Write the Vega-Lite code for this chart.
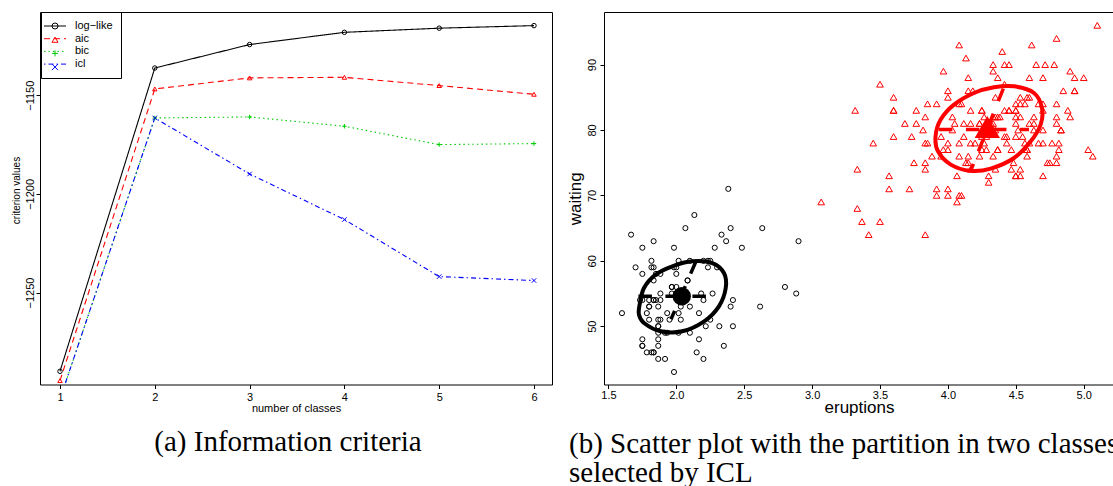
{
"$schema": "https://vega.github.io/schema/vega-lite/v6.json",
"padding": {"left": 10, "top": 11, "right": 0, "bottom": 0},
"spacing": 13,
"config": {
  "font": "Liberation Sans",
  "view": {"stroke": "black", "strokeWidth": 1},
  "axis": {"grid": false, "domain": false, "labelColor": "black", "tickColor": "black", "titleColor": "black", "titleFontWeight": "normal", "tickSize": 4, "labelFlush": false, "labelOverlap": false, "labelFont": "Liberation Sans", "titleFont": "Liberation Sans"},
  "title": {"font": "Liberation Serif", "fontWeight": "normal", "color": "black", "fontSize": 29}
},
"datasets": {
  "crit": [
    {"k":1,"s":"log−like","v":-1289.9},{"k":2,"s":"log−like","v":-1136.2},{"k":3,"s":"log−like","v":-1124.3},{"k":4,"s":"log−like","v":-1118.1},{"k":5,"s":"log−like","v":-1116.0},{"k":6,"s":"log−like","v":-1114.7},
    {"k":1,"s":"aic","v":-1294.6},{"k":2,"s":"aic","v":-1146.8},{"k":3,"s":"aic","v":-1141.2},{"k":4,"s":"aic","v":-1140.9},{"k":5,"s":"aic","v":-1145.1},{"k":6,"s":"aic","v":-1149.5},
    {"k":1,"s":"bic","v":-1304.0},{"k":2,"s":"bic","v":-1161.5},{"k":3,"s":"bic","v":-1161.0},{"k":4,"s":"bic","v":-1165.7},{"k":5,"s":"bic","v":-1175.0},{"k":6,"s":"bic","v":-1174.5},
    {"k":1,"s":"icl","v":-1304.0},{"k":2,"s":"icl","v":-1161.5},{"k":3,"s":"icl","v":-1189.9},{"k":4,"s":"icl","v":-1213.0},{"k":5,"s":"icl","v":-1241.9},{"k":6,"s":"icl","v":-1243.9}
  ],
  "g1": [{"e":1.8,"w":54},{"e":2.283,"w":62},{"e":2.883,"w":55},{"e":1.95,"w":51},{"e":1.833,"w":54},{"e":1.75,"w":47},{"e":2.167,"w":52},{"e":1.75,"w":62},{"e":1.6,"w":52},{"e":1.8,"w":51},{"e":1.75,"w":47},{"e":1.967,"w":55},{"e":2.017,"w":52},{"e":1.867,"w":48},{"e":1.833,"w":59},{"e":1.883,"w":58},{"e":1.75,"w":58},{"e":2.1,"w":53},{"e":2,"w":59},{"e":1.833,"w":54},{"e":1.733,"w":54},{"e":1.667,"w":64},{"e":2.233,"w":59},{"e":1.75,"w":48},{"e":1.817,"w":60},{"e":2.067,"w":65},{"e":1.967,"w":56},{"e":1.983,"w":62},{"e":2.017,"w":60},{"e":2.633,"w":65},{"e":2.167,"w":48},{"e":2.2,"w":60},{"e":1.867,"w":50},{"e":1.833,"w":63},{"e":1.867,"w":51},{"e":2.483,"w":62},{"e":2.1,"w":49},{"e":1.867,"w":47},{"e":1.783,"w":52},{"e":2.3,"w":59},{"e":1.7,"w":59},{"e":2.317,"w":50},{"e":1.817,"w":59},{"e":2.617,"w":53},{"e":1.967,"w":56},{"e":1.917,"w":45},{"e":2.267,"w":55},{"e":1.867,"w":45},{"e":2.8,"w":56},{"e":1.833,"w":46},{"e":1.883,"w":51},{"e":2.033,"w":53},{"e":2.233,"w":60},{"e":1.983,"w":59},{"e":2.017,"w":49},{"e":1.8,"w":53},{"e":2.4,"w":65},{"e":1.8,"w":53},{"e":2.2,"w":45},{"e":2,"w":58},{"e":2.367,"w":63},{"e":1.933,"w":52},{"e":1.917,"w":49},{"e":2.083,"w":57},{"e":2.417,"w":50},{"e":1.883,"w":55},{"e":2.033,"w":51},{"e":1.833,"w":46},{"e":2.183,"w":55},{"e":1.833,"w":57},{"e":2.25,"w":51},{"e":2.1,"w":60},{"e":1.867,"w":53},{"e":1.783,"w":46},{"e":1.933,"w":49},{"e":2.383,"w":71},{"e":1.867,"w":49},{"e":2.4,"w":53},{"e":2,"w":55},{"e":1.867,"w":50},{"e":1.75,"w":54},{"e":2.417,"w":54},{"e":2.217,"w":50},{"e":1.883,"w":54},{"e":1.85,"w":54},{"e":2.333,"w":64},{"e":2.35,"w":47},{"e":2.9,"w":63},{"e":2.083,"w":57},{"e":2.133,"w":67},{"e":2.2,"w":54},{"e":2,"w":56},{"e":1.85,"w":58},{"e":1.983,"w":43},{"e":2.25,"w":60},{"e":2.15,"w":46},{"e":1.817,"w":46}],
  "g2": [{"e":3.6,"w":79},{"e":3.333,"w":74},{"e":4.533,"w":85},{"e":4.7,"w":88},{"e":3.6,"w":85},{"e":4.35,"w":85},{"e":3.917,"w":84},{"e":4.2,"w":78},{"e":4.7,"w":83},{"e":4.8,"w":84},{"e":4.25,"w":79},{"e":3.45,"w":78},{"e":3.067,"w":69},{"e":4.533,"w":74},{"e":3.6,"w":83},{"e":4.083,"w":76},{"e":3.85,"w":78},{"e":4.433,"w":79},{"e":4.3,"w":73},{"e":4.467,"w":77},{"e":3.367,"w":66},{"e":4.033,"w":80},{"e":3.833,"w":74},{"e":4.833,"w":80},{"e":4.783,"w":90},{"e":4.35,"w":80},{"e":4.567,"w":84},{"e":4.533,"w":73},{"e":3.317,"w":83},{"e":3.833,"w":64},{"e":4.633,"w":82},{"e":4.8,"w":75},{"e":4.716,"w":90},{"e":4.833,"w":80},{"e":4.883,"w":83},{"e":3.717,"w":71},{"e":4.567,"w":77},{"e":4.317,"w":81},{"e":4.5,"w":84},{"e":4.8,"w":82},{"e":4.4,"w":92},{"e":4.167,"w":78},{"e":4.7,"w":78},{"e":4.7,"w":73},{"e":4.033,"w":82},{"e":4.5,"w":79},{"e":4,"w":71},{"e":5.067,"w":76},{"e":4.567,"w":78},{"e":3.883,"w":76},{"e":3.6,"w":83},{"e":4.133,"w":75},{"e":4.333,"w":82},{"e":4.1,"w":70},{"e":4.067,"w":73},{"e":4.933,"w":88},{"e":3.95,"w":76},{"e":4.517,"w":80},{"e":4,"w":86},{"e":4.333,"w":90},{"e":4.817,"w":78},{"e":4.3,"w":72},{"e":4.667,"w":84},{"e":3.75,"w":75},{"e":4.9,"w":82},{"e":4.367,"w":88},{"e":4.5,"w":83},{"e":4.05,"w":81},{"e":4.7,"w":84},{"e":4.85,"w":86},{"e":3.683,"w":81},{"e":4.733,"w":75},{"e":4.9,"w":89},{"e":4.417,"w":79},{"e":4.633,"w":81},{"e":4.6,"w":85},{"e":4.417,"w":87},{"e":4.067,"w":69},{"e":4.25,"w":77},{"e":4.6,"w":88},{"e":3.767,"w":81},{"e":4.5,"w":82},{"e":4.65,"w":90},{"e":4.167,"w":83},{"e":4.333,"w":89},{"e":4.383,"w":82},{"e":4.933,"w":86},{"e":3.733,"w":79},{"e":4.233,"w":81},{"e":4.533,"w":82},{"e":4.817,"w":77},{"e":4.333,"w":76},{"e":4.633,"w":80},{"e":5.1,"w":96},{"e":5.033,"w":77},{"e":4,"w":77},{"e":4.6,"w":81},{"e":3.567,"w":71},{"e":4,"w":70},{"e":4.5,"w":81},{"e":4.083,"w":93},{"e":3.967,"w":89},{"e":4.15,"w":86},{"e":3.833,"w":78},{"e":3.5,"w":66},{"e":4.583,"w":76},{"e":5,"w":88},{"e":4.617,"w":93},{"e":4.583,"w":77},{"e":3.333,"w":68},{"e":4.167,"w":81},{"e":4.333,"w":81},{"e":4.5,"w":73},{"e":4,"w":85},{"e":4.167,"w":74},{"e":4.583,"w":77},{"e":4.25,"w":83},{"e":3.767,"w":83},{"e":4.433,"w":78},{"e":4.083,"w":84},{"e":4.417,"w":83},{"e":4.8,"w":81},{"e":4.8,"w":76},{"e":4.1,"w":84},{"e":3.966,"w":77},{"e":4.233,"w":81},{"e":3.5,"w":87},{"e":4.366,"w":77},{"e":4.667,"w":78},{"e":4.35,"w":82},{"e":4.133,"w":91},{"e":4.6,"w":78},{"e":4.367,"w":77},{"e":3.85,"w":84},{"e":4.5,"w":83},{"e":4.7,"w":80},{"e":3.833,"w":75},{"e":3.417,"w":64},{"e":4.233,"w":76},{"e":4.8,"w":94},{"e":4.15,"w":76},{"e":4.267,"w":82},{"e":4.483,"w":75},{"e":4,"w":78},{"e":4.117,"w":79},{"e":4.083,"w":78},{"e":4.267,"w":78},{"e":3.917,"w":70},{"e":4.55,"w":79},{"e":4.083,"w":70},{"e":4.183,"w":86},{"e":4.45,"w":90},{"e":4.283,"w":77},{"e":3.95,"w":79},{"e":4.15,"w":75},{"e":4.933,"w":86},{"e":4.583,"w":85},{"e":3.833,"w":82},{"e":4.367,"w":82},{"e":4.35,"w":74},{"e":4.45,"w":83},{"e":3.567,"w":73},{"e":4.5,"w":73},{"e":4.15,"w":88},{"e":3.817,"w":80},{"e":3.917,"w":71},{"e":4.45,"w":83},{"e":4.283,"w":79},{"e":4.767,"w":78},{"e":4.533,"w":84},{"e":4.25,"w":83},{"e":4.75,"w":75},{"e":4.117,"w":81},{"e":4.417,"w":90},{"e":4.467,"w":74}],
  "ell": [
    {"c":"1","i":0,"e":1.730,"w":53.30},{"c":"1","i":1,"e":1.762,"w":55.84},{"c":"1","i":2,"e":1.848,"w":57.89},{"c":"1","i":3,"e":1.971,"w":59.16},{"c":"1","i":4,"e":2.118,"w":59.92},{"c":"1","i":5,"e":2.265,"w":59.66},{"c":"1","i":6,"e":2.351,"w":58.13},{"c":"1","i":7,"e":2.364,"w":55.84},{"c":"1","i":8,"e":2.314,"w":53.04},{"c":"1","i":9,"e":2.205,"w":50.75},{"c":"1","i":10,"e":2.044,"w":49.22},{"c":"1","i":11,"e":1.885,"w":49.22},{"c":"1","i":12,"e":1.762,"w":50.49},{"c":"1","i":13,"e":1.725,"w":51.77},
    {"c":"2","i":0,"e":3.909,"w":79.04},{"c":"2","i":1,"e":3.947,"w":81.59},{"c":"2","i":2,"e":4.045,"w":83.88},{"c":"2","i":3,"e":4.192,"w":85.66},{"c":"2","i":4,"e":4.339,"w":86.53},{"c":"2","i":5,"e":4.487,"w":86.68},{"c":"2","i":6,"e":4.634,"w":85.66},{"c":"2","i":7,"e":4.693,"w":83.36},{"c":"2","i":8,"e":4.683,"w":80.83},{"c":"2","i":9,"e":4.610,"w":78.27},{"c":"2","i":10,"e":4.487,"w":75.72},{"c":"2","i":11,"e":4.315,"w":74.10},{"c":"2","i":12,"e":4.168,"w":73.76},{"c":"2","i":13,"e":4.021,"w":74.71},{"c":"2","i":14,"e":3.927,"w":76.74}
  ],
  "ax": [
    {"c":"1","g":"1h","i":0,"e":1.721,"w":54.57},{"c":"1","g":"1h","i":1,"e":2.233,"w":54.57},
    {"c":"1","g":"1v","i":0,"e":2.145,"w":59.93},{"c":"1","g":"1v","i":1,"e":1.961,"w":51.06},
    {"c":"2","g":"2h","i":0,"e":3.934,"w":80.06},{"c":"2","g":"2h","i":1,"e":4.597,"w":80.06},
    {"c":"2","g":"2v","i":0,"e":4.408,"w":86.33},{"c":"2","g":"2v","i":1,"e":4.168,"w":73.79}
  ],
  "mu1": [{"e":2.04,"w":54.57}],
  "mu2": [{"e":4.29,"w":80.45}]
},
"hconcat": [
  {
    "width": 512, "height": 372.5,
    "data": {"name": "crit"},
    "title": {"text": "(a) Information criteria", "orient": "bottom", "anchor": "middle", "frame": "group", "dx": -8, "offset": 14},
    "encoding": {
      "x": {"field": "k", "type": "quantitative", "scale": {"domain": [0.789, 6.19], "nice": false, "zero": false},
            "axis": {"values": [1,2,3,4,5,6], "format": "d", "title": "number of classes", "titleFontSize": 11, "titleY": 27, "titleBaseline": "alphabetic", "labelFontSize": 11, "labelPadding": 3}},
      "y": {"field": "v", "type": "quantitative", "scale": {"domain": [-1296.6, -1107.8], "nice": false, "zero": false},
            "axis": {"values": [-1250,-1200,-1150], "format": "d", "title": "criterion values", "titleFontSize": 10, "titleX": -21, "titleY": 178, "titleAngle": -90, "titleBaseline": "alphabetic", "titleAlign": "center", "labelAngle": -90, "labelAlign": "center", "labelBaseline": "alphabetic", "labelFontSize": 11, "labelPadding": 3}}
    },
    "layer": [
      {"mark": {"type": "line", "clip": true, "strokeWidth": 1.1},
       "encoding": {
         "color": {"field": "s", "type": "nominal", "scale": {"domain": ["log−like","aic","bic","icl"], "range": ["black","#ff0000","#00cc00","#0000ff"]},
                   "legend": {"orient": "none", "legendX": 1, "legendY": 0, "title": null, "symbolType": "M-2,0H2", "symbolSize": 121, "symbolStrokeWidth": 1, "labelFontSize": 11, "labelOffset": 14, "padding": 8, "rowPadding": 1.7, "strokeColor": "black", "fillColor": "white", "labelColor": "black", "labelFont": "Liberation Sans"}},
         "strokeDash": {"field": "s", "type": "nominal", "scale": {"domain": ["log−like","aic","bic","icl"], "range": [[1,0],[6,4],[1.5,3],[1.5,3,5,3]]},
                   "legend": {"orient": "none", "legendX": 1, "legendY": 0, "title": null, "symbolType": "M-2,0H2", "symbolSize": 121, "symbolStrokeWidth": 1, "labelFontSize": 11, "labelOffset": 14, "padding": 8, "rowPadding": 1.7, "strokeColor": "black", "fillColor": "white", "labelColor": "black", "labelFont": "Liberation Sans"}}
       }},
      {"mark": {"type": "point", "clip": true, "filled": false, "size": 20, "strokeWidth": 1, "opacity": 1},
       "encoding": {
         "color": {"field": "s", "type": "nominal", "scale": {"domain": ["log−like","aic","bic","icl"], "range": ["black","#ff0000","#00cc00","#0000ff"]},
                   "legend": {"orient": "none", "legendX": 1, "legendY": 0, "title": null, "symbolSize": 36, "symbolStrokeWidth": 1, "labelFontSize": 12, "labelExpr": "''", "padding": 8, "rowPadding": 1.7}},
         "shape": {"field": "s", "type": "nominal", "scale": {"domain": ["log−like","aic","bic","icl"], "range": ["circle","triangle-up","M-1,0H1M0,-1V1","M-1,-1L1,1M-1,1L1,-1"]},
                   "legend": {"orient": "none", "legendX": 1, "legendY": 0, "title": null, "symbolSize": 36, "symbolStrokeWidth": 1, "labelFontSize": 12, "labelExpr": "''", "padding": 8, "rowPadding": 1.7}}
       }}
    ],
    "resolve": {"scale": {"color": "independent", "shape": "independent", "strokeDash": "independent"}, "legend": {"color": "independent", "shape": "independent", "strokeDash": "independent"}}
  },
  {
    "width": 510, "height": 372.5,
    "title": {"text": ["(b) Scatter plot with the partition in two classes", "selected by ICL"], "orient": "bottom", "anchor": "start", "frame": "group", "dx": -35, "offset": 14, "lineHeight": 29},
    "encoding": {
      "x": {"field": "e", "type": "quantitative", "scale": {"domain": [1.4676, 5.2231], "nice": false, "zero": false},
            "axis": {"values": [1.5,2,2.5,3,3.5,4,4.5,5], "format": ".1f", "title": "eruptions", "titleFontSize": 17, "titleY": 28, "titleBaseline": "alphabetic", "labelFontSize": 11, "labelPadding": 1}},
      "y": {"field": "w", "type": "quantitative", "scale": {"domain": [41.09, 98.04], "nice": false, "zero": false},
            "axis": {"values": [50,60,70,80,90], "title": "waiting", "titleFontSize": 17, "titleX": -23.5, "titleAngle": -90, "titleBaseline": "alphabetic", "titleAlign": "center", "labelAngle": -90, "labelAlign": "center", "labelBaseline": "alphabetic", "labelFontSize": 11, "labelPadding": 5}}
    },
    "layer": [
      {"data": {"name": "g1"}, "mark": {"type": "point", "shape": "circle", "filled": false, "color": "black", "size": 26, "strokeWidth": 1, "opacity": 1}},
      {"data": {"name": "g2"}, "mark": {"type": "point", "shape": "triangle-up", "filled": false, "color": "#ff0000", "size": 44, "strokeWidth": 1, "opacity": 1}},
      {"data": {"name": "ell"}, "mark": {"type": "line", "interpolate": "cardinal-closed", "strokeWidth": 4},
       "encoding": {"detail": {"field": "c"}, "order": {"field": "i", "type": "quantitative"}, "color": {"field": "c", "type": "nominal", "scale": {"domain": ["1","2"], "range": ["black","#ff0000"]}, "legend": null}}},
      {"data": {"name": "ax"}, "mark": {"type": "line", "strokeWidth": 3.5, "strokeDash": [13.5,13.5], "strokeCap": "butt"},
       "encoding": {"detail": {"field": "g"}, "order": {"field": "i", "type": "quantitative"}, "color": {"field": "c", "type": "nominal", "scale": {"domain": ["1","2"], "range": ["black","#ff0000"]}, "legend": null}}},
      {"data": {"name": "mu1"}, "mark": {"type": "point", "shape": "circle", "filled": true, "color": "black", "size": 340, "opacity": 1}},
      {"data": {"name": "mu2"}, "mark": {"type": "point", "shape": "triangle-up", "filled": true, "color": "#ff0000", "size": 640, "opacity": 1}}
    ]
  }
]
}
